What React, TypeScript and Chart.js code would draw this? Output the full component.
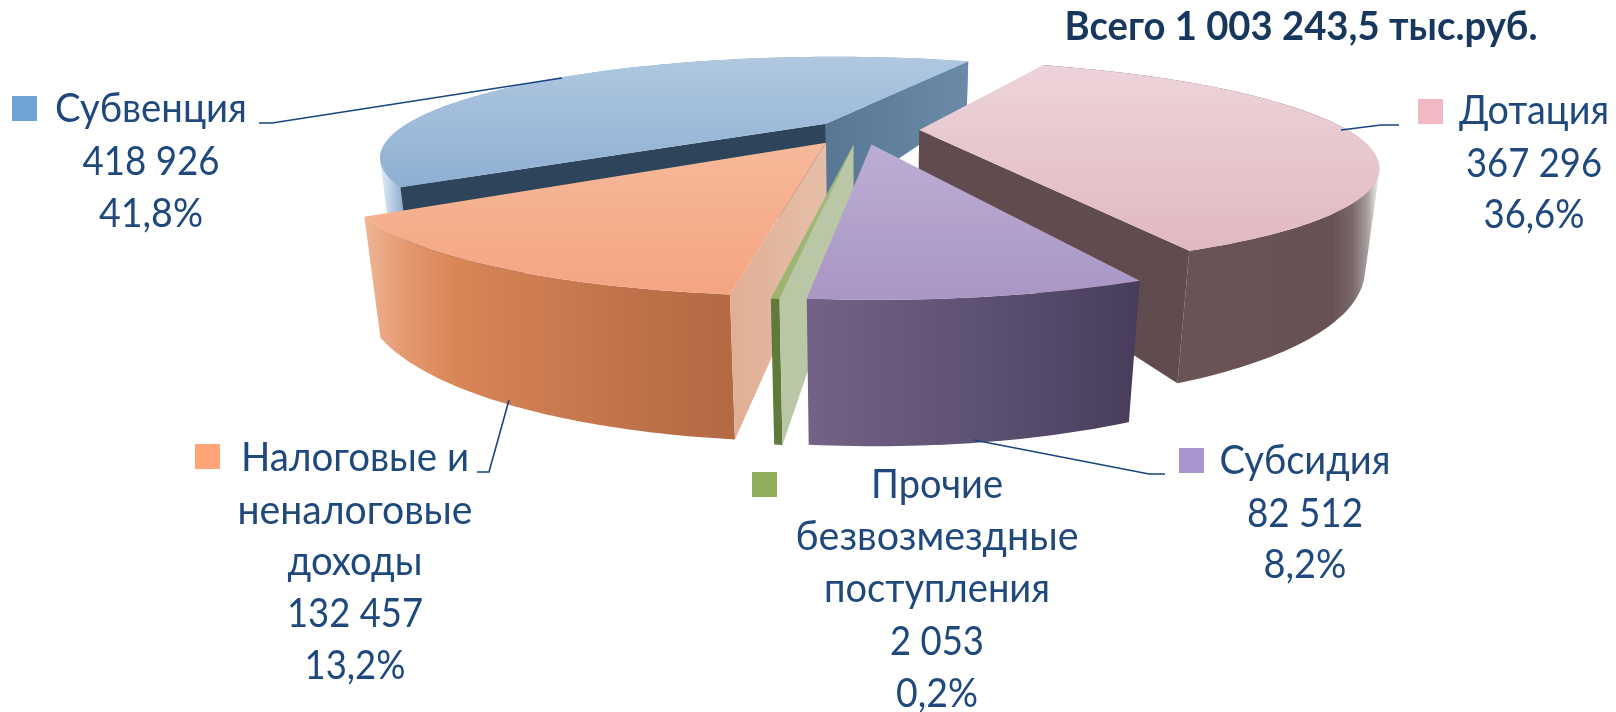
import React, { useEffect, useRef } from "react";
import { Chart, registerables } from "chart.js";

Chart.register(...registerables);

const categories = ["Дотация", "Субсидия", "Прочие безвозмездные поступления", "Налоговые и неналоговые доходы", "Субвенция"];
const seriesValues = [367296, 82512, 2053, 132457, 418926];
const percentLabels = ["36,6%", "8,2%", "0,2%", "13,2%", "41,8%"];
const titleText = "Всего 1 003 243,5 тыс.руб.";
const categoryLines = [["Дотация"], ["Субсидия"], ["Прочие", "безвозмездные", "поступления"], ["Налоговые и", "неналоговые", "доходы"], ["Субвенция"]];

const FONT = "Lato, 'Open Sans', sans-serif";
const LABEL_COLOR = "#1f497d";
const explosion = [45, 50, 50, 51, 36];
const drawOrder = [4, 0, 3, 2, 1];

// plane-to-screen perspective of the pie
const CX = 861, CY = 130, A = 428, B = 92.4, P = 0.3257;
const VPX = 856, VPL = 3700;

type Pt = { x: number; y: number };
const proj = (u: number, v: number): Pt => {
  const d = 1 - P * v;
  return { x: CX + (A * u) / d, y: CY + (B * v) / d };
};
const drop = (p: Pt): Pt => {
  const h = 52 + 0.448 * (p.y - 62) - 0.000606 * (p.y - 62) * (p.y - 216);
  return { x: p.x + ((VPX - p.x) * h) / VPL, y: p.y + h };
};

type Stops = [number, string][];
type Style = {
  top: Stops;
  wall: Stops;
  cutStart: string | Stops | null;
  cutEnd: string | Stops | null;
};
const styles: Style[] = [
  {
    top: [[0, "#edd4da"], [1, "#e1b8c1"]],
    wall: [[0, "#6a5355"], [0.5, "#6a5355"], [0.86, "#675153"], [0.92, "#7a6868"], [0.965, "#a89f9f"], [0.985, "#d8d3d3"], [1, "#f0eeee"]],
    cutStart: null,
    cutEnd: "#604c4e",
  },
  {
    top: [[0, "#bdadd3"], [1, "#a996c5"]],
    wall: [[0, "#726287"], [0.5, "#5e5274"], [1, "#473d5a"]],
    cutStart: null,
    cutEnd: null,
  },
  {
    top: [[0, "#a4bd7e"], [1, "#9ab470"]],
    wall: [[0, "#5f7a3a"], [1, "#5f7a3a"]],
    cutStart: "#bac7a7",
    cutEnd: null,
  },
  {
    top: [[0, "#f7b99a"], [1, "#f4a582"]],
    wall: [[0, "#efb596"], [0.1, "#e59a71"], [0.25, "#d98556"], [0.4, "#d07f52"], [0.7, "#c0734a"], [1, "#b36942"]],
    cutStart: [[0, "#e0ae95"], [1, "#e6bfa9"]],
    cutEnd: null,
  },
  {
    top: [[0, "#b0c8e0"], [1, "#8eafd3"]],
    wall: [[0, "#e6eef6"], [0.02, "#b9cfe6"], [0.04, "#8eaccc"], [1, "#8eaccc"]],
    cutStart: [[0, "#587795"], [1, "#6b8aa8"]],
    cutEnd: "#2d445b",
  },
];

const legendSquares = [
  { x: 1418, y: 99, color: "#f2b9c4" },
  { x: 1179, y: 448, color: "#a996cf" },
  { x: 752, y: 472, color: "#8fae5b" },
  { x: 195, y: 444, color: "#ffa477" },
  { x: 12, y: 96, color: "#6fa3d8" },
];
const labelBlocks = [
  { cx: 1534, baselines: [124, 177, 228], widths: [150, 136, 101] },
  { cx: 1305, baselines: [474, 527, 578], widths: [171, 116, 83] },
  { cx: 937, baselines: [498, 550, 602, 655, 707], widths: [132, 283, 226, 94, 82] },
  { cx: 355, baselines: [471, 524, 575, 627, 679], widths: [228, 235, 135, 136, 101] },
  { cx: 151, baselines: [122, 175, 227], widths: [192, 137, 104] },
];
const leaders: Pt[][] = [
  [{ x: 1341, y: 130 }, { x: 1381, y: 125 }, { x: 1399, y: 125 }],
  [{ x: 974, y: 440 }, { x: 1149, y: 474 }, { x: 1165, y: 474 }],
  [],
  [{ x: 509, y: 400 }, { x: 489, y: 472 }, { x: 477, y: 472 }],
  [{ x: 259, y: 123 }, { x: 272, y: 123 }, { x: 562, y: 78 }],
];

const fmt = (n: number) => String(n).replace(/\B(?=(\d{3})+$)/g, " ");

function fillPoly(ctx: CanvasRenderingContext2D, pts: Pt[], fill: any) {
  ctx.beginPath();
  pts.forEach((p, i) => (i ? ctx.lineTo(p.x, p.y) : ctx.moveTo(p.x, p.y)));
  ctx.closePath();
  ctx.fillStyle = fill;
  ctx.fill();
}
// the wall swept down from the rim, one path of same-wound quads
function fillSweep(ctx: CanvasRenderingContext2D, rim: Pt[], fill: any) {
  ctx.beginPath();
  for (let k = 0; k < rim.length - 1; k++) {
    let q = [rim[k], rim[k + 1], drop(rim[k + 1]), drop(rim[k])];
    let area = 0;
    q.forEach((p, j) => {
      const n = q[(j + 1) % 4];
      area += p.x * n.y - n.x * p.y;
    });
    if (area < 0) q = q.reverse();
    q.forEach((p, j) => (j ? ctx.lineTo(p.x, p.y) : ctx.moveTo(p.x, p.y)));
    ctx.closePath();
  }
  ctx.fillStyle = fill;
  ctx.fill();
}
function hGrad(ctx: CanvasRenderingContext2D, pts: Pt[], stops: Stops) {
  const xs = pts.map((p) => p.x);
  const g = ctx.createLinearGradient(Math.min(...xs), 0, Math.max(...xs), 0);
  stops.forEach(([o, c]) => g.addColorStop(o, c));
  return g;
}
function vGrad(ctx: CanvasRenderingContext2D, pts: Pt[], stops: Stops) {
  const ys = pts.map((p) => p.y);
  const g = ctx.createLinearGradient(0, Math.min(...ys), 0, Math.max(...ys));
  stops.forEach(([o, c]) => g.addColorStop(o, c));
  return g;
}

const pie3d = {
  id: "pie3d",
  beforeDatasetsDraw(chart: any) {
    const ctx: CanvasRenderingContext2D = chart.ctx;
    const arcs = chart.getDatasetMeta(0).data;
    ctx.save();
    for (const i of drawOrder) {
      const el = arcs[i];
      const st = styles[i];
      const e = el.options.offset / el.outerRadius;
      const mid = (el.startAngle + el.endAngle) / 2;
      const ox = e * Math.cos(mid);
      const oy = e * Math.sin(mid);
      const n = Math.max(2, Math.ceil(((el.endAngle - el.startAngle) * 180) / Math.PI));
      const rim: Pt[] = [];
      for (let k = 0; k <= n; k++) {
        const a = el.startAngle + ((el.endAngle - el.startAngle) * k) / n;
        rim.push(proj(ox + Math.cos(a), oy + Math.sin(a)));
      }
      const apex = proj(ox, oy);
      fillSweep(ctx, rim, hGrad(ctx, [...rim, ...rim.map(drop)], st.wall));
      const cut = (edge: Pt, style: string | Stops | null) => {
        if (!style) return;
        const q = [apex, edge, drop(edge), drop(apex)];
        fillPoly(ctx, q, typeof style === "string" ? style : hGrad(ctx, q, style));
      };
      // the wall facing the viewer on the side of the slice's first edge or last edge
      cut(rim[rim.length - 1], i === 4 ? (st.cutStart as any) : null);
      cut(rim[0], i === 4 ? (st.cutEnd as any) : (st.cutStart as any));
      cut(rim[rim.length - 1], i === 4 ? null : (st.cutEnd as any));
      const topFace = [apex, ...rim];
      fillPoly(ctx, topFace, vGrad(ctx, topFace, st.top));
    }
    ctx.restore();
    return false;
  },
  afterDraw(chart: any) {
    const ctx: CanvasRenderingContext2D = chart.ctx;
    ctx.save();
    ctx.strokeStyle = "#17457f";
    ctx.lineWidth = 1.6;
    leaders.forEach((line) => {
      if (!line.length) return;
      ctx.beginPath();
      line.forEach((p, i) => (i ? ctx.lineTo(p.x, p.y) : ctx.moveTo(p.x, p.y)));
      ctx.stroke();
    });
    legendSquares.forEach((s) => {
      ctx.fillStyle = s.color;
      ctx.fillRect(s.x, s.y, 25, 25);
    });
    ctx.textAlign = "center";
    ctx.textBaseline = "alphabetic";
    ctx.fillStyle = LABEL_COLOR;
    ctx.font = `40px ${FONT}`;
    labelBlocks.forEach((b, i) => {
      const lines = [...categoryLines[i], fmt(seriesValues[i]), percentLabels[i]];
      lines.forEach((t, k) => ctx.fillText(t, b.cx, b.baselines[k], b.widths[k]));
    });
    ctx.fillStyle = "#17375e";
    ctx.font = `bold 40px ${FONT}`;
    ctx.fillText(titleText, 1301, 40, 473);
    ctx.restore();
  },
};

export default function App() {
  const ref = useRef<HTMLCanvasElement>(null);
  useEffect(() => {
    const chart = new Chart(ref.current as HTMLCanvasElement, {
      type: "pie",
      data: {
        labels: categories,
        datasets: [{ data: seriesValues, offset: explosion, borderWidth: 0, backgroundColor: legendSquares.map((s) => s.color) }],
      },
      options: {
        responsive: false,
        animation: false,
        rotation: 24.5,
        events: [],
        layout: { padding: 0 },
        plugins: { legend: { display: false }, tooltip: { enabled: false }, title: { display: false } },
      },
      plugins: [pie3d],
    } as any);
    return () => chart.destroy();
  }, []);
  return (
    <div style={{ position: "absolute", left: 0, top: 0, width: 1616, height: 712, background: "#fff" }}>
      <canvas ref={ref} width={1616} height={712} style={{ display: "block" }} />
    </div>
  );
}
